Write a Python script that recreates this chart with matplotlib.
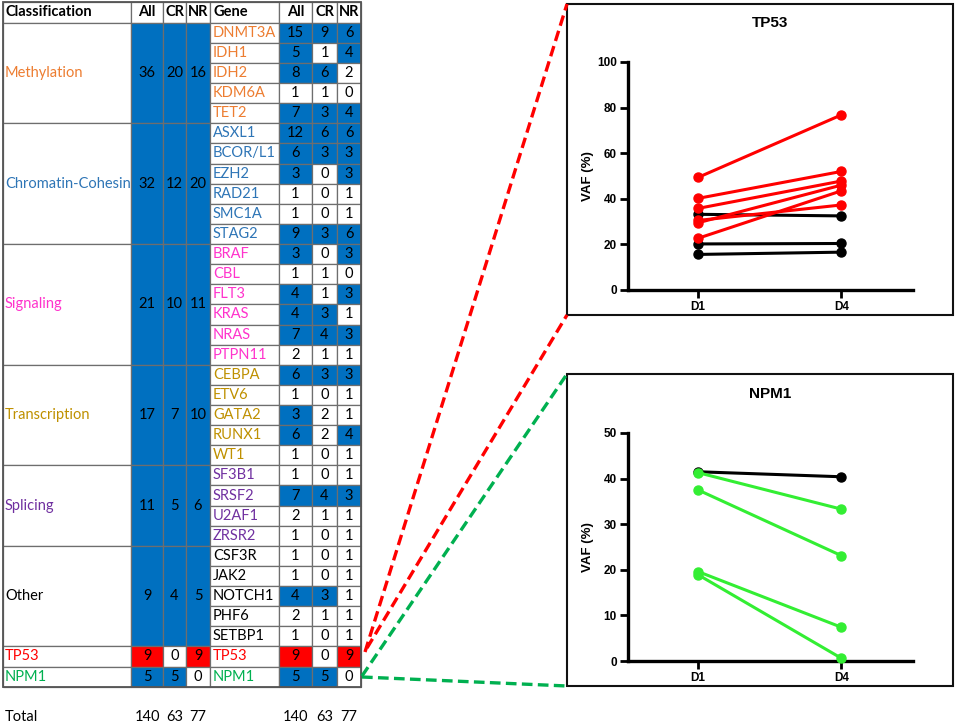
import matplotlib
matplotlib.use("Agg")
import matplotlib.pyplot as plt
from matplotlib.patches import Rectangle

# таблица: категории
categories = ["Methylation", "Chromatin-Cohesin", "Signaling", "Transcription",
              "Splicing", "Other", "TP53", "NPM1"]
cat_all = [36, 32, 21, 17, 11, 9, 9, 5]
cat_cr = [20, 12, 10, 7, 5, 4, 0, 5]
cat_nr = [16, 20, 11, 10, 6, 5, 9, 0]

# гены по категориям
genes = [
    ["DNMT3A", "IDH1", "IDH2", "KDM6A", "TET2"],
    ["ASXL1", "BCOR/L1", "EZH2", "RAD21", "SMC1A", "STAG2"],
    ["BRAF", "CBL", "FLT3", "KRAS", "NRAS", "PTPN11"],
    ["CEBPA", "ETV6", "GATA2", "RUNX1", "WT1"],
    ["SF3B1", "SRSF2", "U2AF1", "ZRSR2"],
    ["CSF3R", "JAK2", "NOTCH1", "PHF6", "SETBP1"],
    ["TP53"],
    ["NPM1"],
]
gene_all = [15, 5, 8, 1, 7, 12, 6, 3, 1, 1, 9, 3, 1, 4, 4, 7, 2, 6, 1, 3, 6, 1,
            1, 7, 2, 1, 1, 1, 4, 2, 1, 9, 5]
gene_cr = [9, 1, 6, 1, 3, 6, 3, 0, 0, 0, 3, 0, 1, 1, 3, 4, 1, 3, 0, 2, 2, 0,
           0, 4, 1, 0, 0, 0, 3, 1, 0, 0, 5]
gene_nr = [6, 4, 2, 0, 4, 6, 3, 3, 1, 1, 6, 3, 0, 3, 1, 3, 1, 3, 1, 1, 4, 1,
           1, 3, 1, 1, 1, 1, 1, 1, 1, 9, 0]
totals_cat = [140, 63, 77]
totals_gene = [140, 63, 77]

# VAF, D1 -> D4
tp53_red_d1 = [49.4, 40.2, 35.8, 29.5, 30.5, 22.7]
tp53_red_d4 = [76.8, 52.0, 47.8, 46.0, 37.3, 43.5]
tp53_black_d1 = [33.2, 20.2, 15.6]
tp53_black_d4 = [32.5, 20.4, 16.6]
npm1_black_d1 = [41.5]
npm1_black_d4 = [40.4]
npm1_green_d1 = [41.3, 37.5, 19.6, 18.9]
npm1_green_d4 = [33.3, 23.1, 7.4, 0.6]
days = ["D1", "D4"]

cat_colors = ["#ED7D31", "#2E75B6", "#FF33CC", "#BF9000", "#7030A0",
              "black", "#FF0000", "#00B050"]
BLUE = "#0070C0"
RED = "#FF0000"
EDGE = "#6E6E6E"

W, H = 957, 725
fig = plt.figure(figsize=(W / 100, H / 100), dpi=100)
ax0 = fig.add_axes([0, 0, 1, 1])
ax0.set_xlim(0, W)
ax0.set_ylim(H, 0)
ax0.axis("off")

FONT = "Lato"
FS = 10.5
cols = [3, 131, 163, 186, 210, 279, 312, 337, 361]  # границы столбцов
top, head_h, row_h = 2, 20.7, 20.12
y0 = top + head_h


def cell(x1, x2, y1, y2, fc="white"):
    ax0.add_patch(Rectangle((x1, y1), x2 - x1, y2 - y1, facecolor=fc,
                            edgecolor=EDGE, lw=0.9))


def fill_for(v, red):
    if v < 3:
        return "white"
    return RED if red else BLUE


# шапка
heads = ["Classification", "All", "CR", "NR", "Gene", "All", "CR", "NR"]
for i, h in enumerate(heads):
    cell(cols[i], cols[i + 1], top, y0)
    if h in ("Classification", "Gene"):
        ax0.text(cols[i] + 3, top + head_h / 2, h, fontsize=FS, fontweight="bold",
                 family=FONT, va="center", ha="left")
    else:
        ax0.text((cols[i] + cols[i + 1]) / 2, top + head_h / 2, h, fontsize=FS,
                 fontweight="bold", family=FONT, va="center", ha="center")

r = 0
gi = 0
for c, name in enumerate(categories):
    n = len(genes[c])
    ya, yb = y0 + r * row_h, y0 + (r + n) * row_h
    red = name == "TP53"
    cell(cols[0], cols[1], ya, yb)
    ax0.text(cols[0] + 2, (ya + yb) / 2, name, color=cat_colors[c], fontsize=FS,
             family=FONT, va="center", ha="left")
    for k, v in enumerate([cat_all[c], cat_cr[c], cat_nr[c]]):
        cell(cols[1 + k], cols[2 + k], ya, yb, fill_for(v, red))
        ax0.text((cols[1 + k] + cols[2 + k]) / 2, (ya + yb) / 2, str(v), fontsize=FS,
                 family=FONT, va="center", ha="center")
    for j, g in enumerate(genes[c]):
        yy1 = y0 + (r + j) * row_h
        yy2 = yy1 + row_h
        cell(cols[4], cols[5], yy1, yy2)
        ax0.text(cols[4] + 3, (yy1 + yy2) / 2, g, color=cat_colors[c], fontsize=FS,
                 family=FONT, va="center", ha="left")
        for k, v in enumerate([gene_all[gi], gene_cr[gi], gene_nr[gi]]):
            cell(cols[5 + k], cols[6 + k], yy1, yy2, fill_for(v, red))
            ax0.text((cols[5 + k] + cols[6 + k]) / 2, (yy1 + yy2) / 2, str(v),
                     fontsize=FS, family=FONT, va="center", ha="center")
        gi += 1
    r += n

# внешняя рамка таблицы
ax0.add_patch(Rectangle((cols[0], top), cols[-1] - cols[0], y0 + r * row_h - top,
                        fill=False, edgecolor="#555555", lw=1.3))

# итоговая строка
ty = 717
ax0.text(5, ty, "Total", fontsize=FS, family=FONT, va="center", ha="left")
for k in range(3):
    ax0.text((cols[1 + k] + cols[2 + k]) / 2, ty, str(totals_cat[k]), fontsize=FS,
             family=FONT, va="center", ha="center")
    ax0.text((cols[5 + k] + cols[6 + k]) / 2, ty, str(totals_gene[k]), fontsize=FS,
             family=FONT, va="center", ha="center")

# рамки графиков
bx1, bx2 = 567, 953
box_tp53 = (4, 315)
box_npm1 = (374, 686)
for (a, b) in (box_tp53, box_npm1):
    ax0.add_patch(Rectangle((bx1, a), bx2 - bx1, b - a, fill=False,
                            edgecolor="#111111", lw=1.5))

# пунктирные выноски
ax0.plot([365, bx1], [652, box_tp53[0]], color=RED, lw=2.4, ls=(0, (3.2, 1.6)))
ax0.plot([367, bx1], [648, box_tp53[1]], color=RED, lw=2.4, ls=(0, (3.2, 1.6)))
ax0.plot([362, bx1], [676, box_npm1[0]], color="#00B050", lw=2.4, ls=(0, (3.2, 1.6)))
ax0.plot([362, bx1], [677, box_npm1[1]], color="#00B050", lw=2.4, ls=(0, (3.2, 1.6)))


def vaf_axes(ypix0, ypix_top, ymax, title, title_y, series):
    axl, axr = 628, 913
    ax = fig.add_axes([axl / W, 1 - ypix0 / H, (axr - axl) / W, (ypix0 - ypix_top) / H])
    for d1, d4, col in series:
        for a, b in zip(d1, d4):
            ax.plot([0, 1], [a, b], color=col, lw=2.2, marker="o", ms=6.5,
                    clip_on=False, zorder=3)
    ax.set_ylim(0, ymax)
    ax.set_xlim(-0.49, 1.5)
    ax.set_xticks([0, 1])
    ax.set_xticklabels(days)
    ax.set_yticks(range(0, ymax + 1, ymax // 5))
    for s in ("top", "right"):
        ax.spines[s].set_visible(False)
    for s in ("left", "bottom"):
        ax.spines[s].set_linewidth(2.4)
    ax.tick_params(width=2, length=6, pad=2, labelsize=8.5)
    for lab in ax.get_xticklabels() + ax.get_yticklabels():
        lab.set_fontweight("bold")
        lab.set_family("Liberation Sans")
    ax.set_facecolor("none")
    fig.text((axl + axr) / 2 / W, 1 - title_y / H, title, ha="center", va="center",
             fontsize=11, fontweight="bold", family="Liberation Sans")
    fig.text(588 / W, 1 - (ypix0 + ypix_top) / 2 / H, "VAF (%)", rotation=90,
             ha="center", va="center", fontsize=9.5, fontweight="bold",
             family="Liberation Sans")
    return ax


vaf_axes(290, 62, 100, "TP53", 23,
         [(tp53_black_d1, tp53_black_d4, "black"), (tp53_red_d1, tp53_red_d4, RED)])
vaf_axes(661, 433, 50, "NPM1", 394,
         [(npm1_black_d1, npm1_black_d4, "black"), (npm1_green_d1, npm1_green_d4, "#33EE33")])

fig.savefig("out.png", dpi=100)
